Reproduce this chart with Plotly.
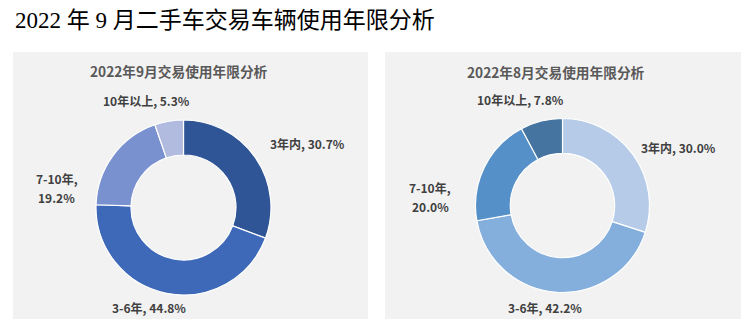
import plotly.graph_objects as go

# Vehicle-age categories and their shares (%)
categories = ["3年内", "3-6年", "7-10年", "10年以上"]
sep_values = [30.7, 44.8, 19.2, 5.3]
aug_values = [30.0, 42.2, 20.0, 7.8]

main_title = "2022 年 9 月二手车交易车辆使用年限分析"
sep_title = "2022年9月交易使用年限分析"
aug_title = "2022年8月交易使用年限分析"

sep_colors = ["#2f5597", "#3e69b8", "#7a91cf", "#b1bbe0"]
aug_colors = ["#b5cbe8", "#84aedc", "#5590c8", "#44749f"]

W, H = 750, 324


def px(x):
    return x / W


def py(y):
    return 1 - y / H


fig = go.Figure()

# Gray card backgrounds
for x0, x1 in [(13, 368), (385, 741)]:
    fig.add_shape(type="rect", xref="paper", yref="paper",
                  x0=px(x0), x1=px(x1), y0=py(319), y1=py(52),
                  fillcolor="#f2f2f2", line=dict(width=0), layer="below")


def donut(values, colors, cx, cy, r):
    return go.Pie(
        labels=categories, values=values, sort=False, direction="clockwise",
        rotation=0, hole=0.6, textinfo="none", showlegend=False,
        marker=dict(colors=colors, line=dict(color="white", width=1.2)),
        domain=dict(x=[px(cx - r), px(cx + r)], y=[py(cy + r), py(cy - r)]),
    )


fig.add_trace(donut(sep_values, sep_colors, 183.5, 207.5, 87.5))
fig.add_trace(donut(aug_values, aug_colors, 562.5, 205.5, 87))

label_font = dict(family="Noto Sans CJK SC", size=12, color="#404040")


def label_lines(i, values):
    if categories[i] == "7-10年":
        return [f"<b>{categories[i]},</b>", f"<b>{values[i]:.1f}%</b>"]
    return [f"<b>{categories[i]}, {values[i]:.1f}%</b>"]


# label anchor points (pixels) for each category, per chart; wrapped labels
# list one point per line
sep_pos = [[(307, 143)], [(149, 307)], [(57, 178), (56, 197)], [(146, 100)]]
aug_pos = [[(678, 147)], [(545, 307)], [(430, 187), (430, 207)], [(520, 99)]]

annotations = []
for values, pos in [(sep_values, sep_pos), (aug_values, aug_pos)]:
    for i, points in enumerate(pos):
        for line, (x, y) in zip(label_lines(i, values), points):
            annotations.append(dict(
                x=px(x), y=py(y), xref="paper", yref="paper", showarrow=False,
                text=line, font=label_font,
                xanchor="center", yanchor="middle",
            ))

for text, x, y in [(sep_title, 179, 71), (aug_title, 556, 72)]:
    annotations.append(dict(
        x=px(x), y=py(y), xref="paper", yref="paper", showarrow=False,
        text=f"<b>{text}</b>",
        font=dict(family="Noto Sans CJK SC", size=13.7, color="#595959"),
        xanchor="center", yanchor="middle",
    ))

annotations.append(dict(
    x=px(13), y=py(21), xref="paper", yref="paper", showarrow=False,
    text=main_title,
    font=dict(family="Liberation Serif, Noto Sans CJK SC", size=23, color="#000000"),
    xanchor="left", yanchor="middle",
))

fig.update_layout(
    width=W, height=H, margin=dict(l=0, r=0, t=0, b=0),
    paper_bgcolor="white", plot_bgcolor="white",
    annotations=annotations,
)

fig.write_html("out.html")
